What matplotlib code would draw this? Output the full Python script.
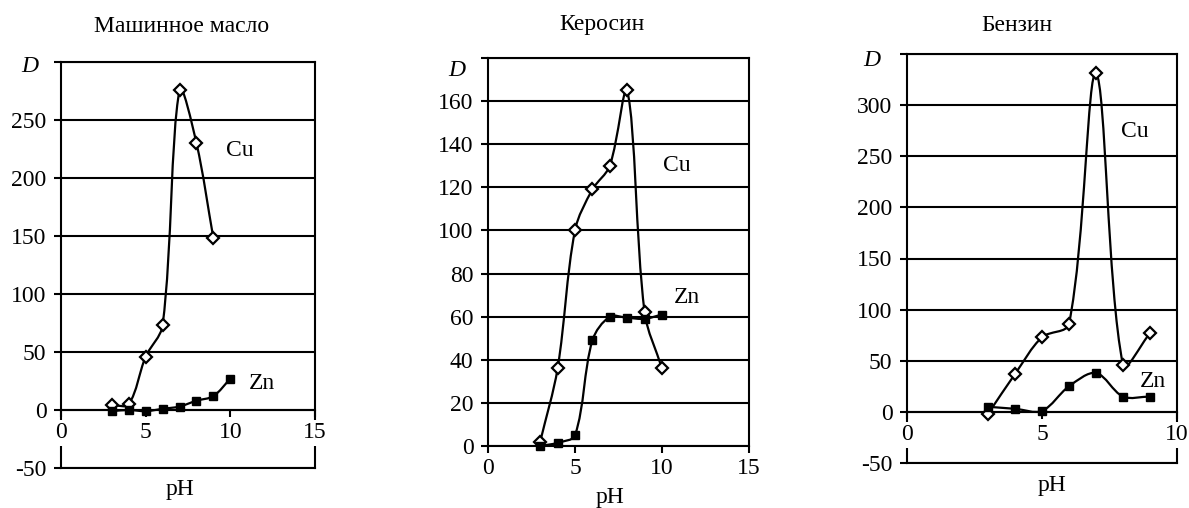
import numpy as np
import matplotlib
matplotlib.use("Agg")
import matplotlib.pyplot as plt
from matplotlib.path import Path
from matplotlib.patches import PathPatch

plt.rcParams['font.family'] = ['Liberation Serif', 'DejaVu Serif']
plt.rcParams['font.size'] = 17

W, H = 1189, 508

titles = ["Машинное масло", "Керосин", "Бензин"]

# Машинное масло
oil_ph_cu = [3, 4, 5, 6, 7, 8, 9]
oil_cu = [4, 5, 46, 73, 276, 230, 148]
oil_ph_zn = [3, 4, 5, 6, 7, 8, 9, 10]
oil_zn = [-1, 0, -1, 1, 3, 8, 12, 27]

# Керосин
ker_ph = [3, 4, 5, 6, 7, 8, 9, 10]
ker_cu = [2, 36, 100, 119, 130, 165, 62, 36]
ker_zn = [0, 1.5, 5, 49, 60, 59.5, 59, 61]

# Бензин
benz_ph = [3, 4, 5, 6, 7, 8, 9]
benz_cu = [-2, 37, 73, 86, 331, 46, 77]
benz_zn = [5, 3, 1, 25, 38, 15, 15]

series = [
    (oil_ph_cu, oil_cu, oil_ph_zn, oil_zn),
    (ker_ph, ker_cu, ker_ph, ker_zn),
    (benz_ph, benz_cu, benz_ph, benz_zn),
]

y_ranges = [(-50, 300, 50), (0, 180, 20), (-50, 350, 50)]
x_ranges = [(0, 15, 5), (0, 15, 5), (0, 10, 5)]

# layout in pixels (left, top, right, bottom)
boxes = [(61, 62, 315, 468), (488, 58, 749, 446), (907, 54, 1177, 463)]
title_pos = [(182, 32), (602, 30), (1017, 31)]
d_pos = [(30, 67), (457, 70), (872, 61)]
ph_pos = [(180, 495), (610, 503), (1052, 491)]
cu_pos = [(10.57, 224), (10.86, 130), (8.44, 274)]
zn_pos = [(11.87, 23), (11.44, 69), (9.11, 30)]


def smooth_path(ax, xs, ys):
    # excel-like smoothed line, control points computed in screen space
    pts = ax.transData.transform(np.column_stack([xs, ys]))
    n = len(pts)
    verts = [pts[0]]
    codes = [Path.MOVETO]
    for i in range(n - 1):
        p0 = pts[max(i - 1, 0)]
        p1 = pts[i]
        p2 = pts[i + 1]
        p3 = pts[min(i + 2, n - 1)]
        d01 = np.hypot(*(p1 - p0))
        d12 = np.hypot(*(p2 - p1))
        d23 = np.hypot(*(p3 - p2))
        c1 = p1 + (p2 - p0) * d12 / (d01 + d12) / 3
        c2 = p2 - (p3 - p1) * d12 / (d12 + d23) / 3
        verts += [c1, c2, p2]
        codes += [Path.CURVE4] * 3
    verts = ax.transData.inverted().transform(np.array(verts))
    return Path(verts, codes)


fig = plt.figure(figsize=(W / 100, H / 100), dpi=100)

for k in range(3):
    l, t, r, b = boxes[k]
    ax = fig.add_axes([l / W, 1 - b / H, (r - l) / W, (b - t) / H])
    ymin, ymax, ystep = y_ranges[k]
    xmin, xmax, xstep = x_ranges[k]
    ax.set_xlim(xmin, xmax)
    ax.set_ylim(ymin, ymax)

    yt = np.arange(ymin, ymax + 1, ystep)
    ax.set_yticks(yt)
    ax.set_yticklabels([str(v) for v in yt[:-1]] + [''])
    xt = np.arange(xmin, xmax + 1, xstep)
    ax.set_xticks(xt)
    ax.set_xticklabels([str(v) for v in xt])

    ax.yaxis.grid(True, color='black', linewidth=1.5)
    ax.set_axisbelow(True)
    for s in ax.spines.values():
        s.set_color('black')
        s.set_linewidth(1.5)
    ax.spines['bottom'].set_position(('data', 0))
    if ymin < 0:
        ax.axhline(ymin, color='black', linewidth=1.5, clip_on=False)

    ax.tick_params(axis='y', direction='out', length=5, width=1.5, pad=5.5)
    ax.tick_params(axis='x', direction='out', length=5, width=1.5, pad=4)
    ax.xaxis.set_zorder(3)
    for lab in ax.get_xticklabels():
        lab.set_bbox(dict(facecolor='white', edgecolor='none', pad=2))

    x_cu, y_cu, x_zn, y_zn = series[k]
    ax.add_patch(PathPatch(smooth_path(ax, x_cu, y_cu), facecolor='none',
                           edgecolor='black', linewidth=1.6, zorder=2))
    ax.add_patch(PathPatch(smooth_path(ax, x_zn, y_zn), facecolor='none',
                           edgecolor='black', linewidth=1.6, zorder=2))
    ax.plot(x_cu, y_cu, linestyle='none', marker='D', markersize=6.3,
            markerfacecolor='white', markeredgecolor='black',
            markeredgewidth=1.6, zorder=4, clip_on=False)
    ax.plot(x_zn, y_zn, linestyle='none', marker='s', markersize=6.3,
            color='black', zorder=4, clip_on=False)

    ax.text(cu_pos[k][0], cu_pos[k][1], "Cu", ha='center', va='center')
    ax.text(zn_pos[k][0], zn_pos[k][1], "Zn", ha='center', va='center')

    fig.text(title_pos[k][0] / W, 1 - title_pos[k][1] / H, titles[k],
             ha='center', va='baseline')
    fig.text(d_pos[k][0] / W, 1 - d_pos[k][1] / H, "D", style='italic',
             ha='center', va='center')
    fig.text(ph_pos[k][0] / W, 1 - ph_pos[k][1] / H, "pH",
             ha='center', va='baseline')

fig.savefig("out.png", dpi=100)
